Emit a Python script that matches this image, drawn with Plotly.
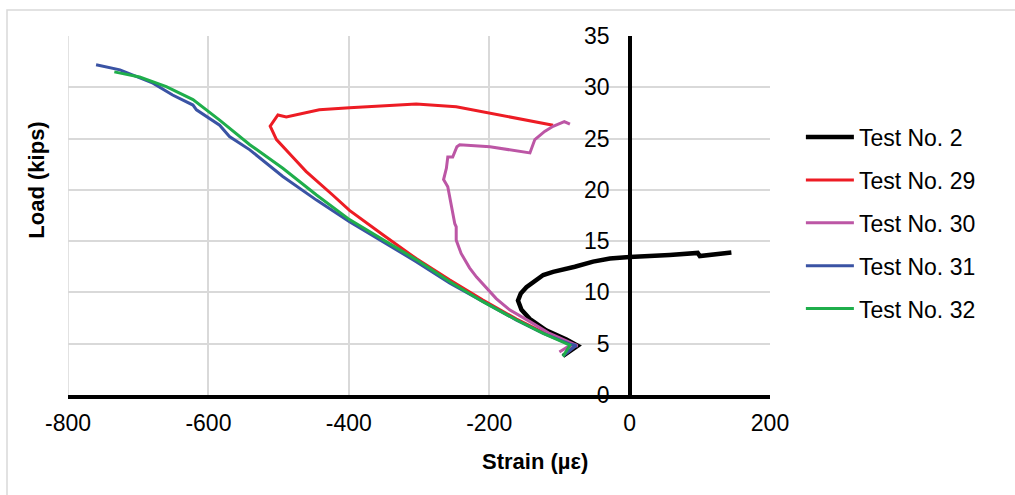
import plotly.graph_objects as go

# ---- data (strain in microstrain, load in kips) ----
t2_x = [-95, -74, -90, -119, -142, -154, -159, -155, -147, -133, -123, -109, -95, -78, -52, -28, 0, 28, 57, 97, 100, 145]
t2_y = [3.8, 4.8, 5.4, 6.3, 7.4, 8.3, 9.2, 9.9, 10.5, 11.2, 11.7, 12.0, 12.2, 12.5, 13.0, 13.3, 13.45, 13.6, 13.65, 13.85, 13.55, 13.9]

t29_x = [-92, -76, -85, -123, -161, -209, -256, -304, -351, -399, -423, -461, -480, -503, -512, -501, -489, -470, -442, -399, -304, -247, -199, -147, -109]
t29_y = [4.0, 4.87, 5.0, 6.1, 7.4, 9.26, 11.2, 13.3, 15.6, 18.0, 19.5, 21.8, 23.2, 24.9, 26.2, 27.3, 27.1, 27.4, 27.8, 28.0, 28.37, 28.1, 27.46, 26.75, 26.3]

t30_x = [-100, -88, -74, -114, -142, -171, -190, -202, -218, -228, -240, -247, -247, -249, -254, -259, -265, -261, -259, -252, -246, -242, -199, -147, -142, -135, -121, -109, -93, -85]
t30_y = [4.2, 4.7, 4.8, 6.0, 7.15, 8.3, 9.4, 10.3, 11.5, 12.4, 13.8, 15.1, 16.4, 16.7, 18.4, 20.3, 21.0, 22.1, 23.2, 23.2, 24.2, 24.4, 24.2, 23.7, 23.6, 24.9, 25.7, 26.2, 26.65, 26.4]

t31_x = [-95, -76, -85, -123, -161, -199, -256, -304, -351, -399, -446, -494, -541, -570, -584, -617, -622, -651, -679, -726, -760]
t31_y = [3.8, 4.85, 4.95, 6.0, 7.3, 8.77, 10.9, 13.0, 14.95, 16.9, 19.0, 21.3, 23.9, 25.2, 26.3, 27.8, 28.27, 29.25, 30.4, 31.7, 32.2]

t32_x = [-95, -85, -123, -161, -209, -256, -304, -351, -399, -446, -494, -541, -584, -622, -660, -698, -734]
t32_y = [3.75, 4.85, 6.0, 7.31, 9.1, 11.05, 13.2, 15.1, 17.1, 19.5, 22.1, 24.4, 26.8, 28.8, 30.06, 31.0, 31.5]

series_names = ["Test No. 2", "Test No. 29", "Test No. 30", "Test No. 31", "Test No. 32"]
series_x = [t2_x, t29_x, t30_x, t31_x, t32_x]
series_y = [t2_y, t29_y, t30_y, t31_y, t32_y]
series_colors = ["#000000", "#ed1c24", "#bc56a5", "#3a53a4", "#1fae4b"]
series_widths = [4.5, 3, 3, 3, 3]

x_ticks = [-800, -600, -400, -200, 0, 200]
y_ticks = [0, 5, 10, 15, 20, 25, 30, 35]

FONT = "Liberation Sans, Arial, sans-serif"

fig = go.Figure()
for name, xs, ys, c, w in zip(series_names, series_x, series_y, series_colors, series_widths):
    fig.add_trace(go.Scatter(x=xs, y=ys, mode="lines", name=name, legendgroup=name,
                             line=dict(color=c, width=w)))

fig.update_layout(
    width=1015, height=495,
    margin=dict(l=68, r=245, t=36, b=100),
    paper_bgcolor="white", plot_bgcolor="white",
    font=dict(family=FONT, size=23, color="#000000"),
    showlegend=True,
    legend=dict(x=1.044, y=0.479, xanchor="left", yanchor="middle",
                font=dict(family=FONT, size=23, color="#000000"),
                traceorder="grouped", tracegroupgap=10, itemwidth=48,
                bgcolor="rgba(0,0,0,0)"),
    xaxis=dict(range=[-800, 200], tickvals=x_ticks, ticktext=[str(v) for v in x_ticks],
               showgrid=True, gridcolor="#d9d9d9", gridwidth=1.5,
               zeroline=True, zerolinecolor="#000000", zerolinewidth=3.5,
               showline=True, linecolor="#000000", linewidth=3.5,
               ticks="", ticklabelstandoff=5,
               tickfont=dict(family=FONT, size=23, color="#000000")),
    yaxis=dict(range=[0, 35], tickvals=y_ticks, ticktext=[str(v) for v in y_ticks],
               anchor="free", position=0.8,
               showgrid=True, gridcolor="#d9d9d9", gridwidth=1.5,
               zeroline=False, showline=False, ticks="", ticklabelstandoff=20,
               tickfont=dict(family=FONT, size=23, color="#000000")),
    annotations=[
        dict(text="<b>Strain (µε)</b>", xref="paper", yref="paper", x=0.6652, y=-0.1866,
             xanchor="center", yanchor="middle", showarrow=False,
             font=dict(family=FONT, size=22, color="#000000")),
        dict(text="<b>Load (kips)</b>", xref="paper", yref="paper", x=-0.0446, y=0.599,
             xanchor="center", yanchor="middle", showarrow=False, textangle=-90,
             font=dict(family=FONT, size=22, color="#000000")),
    ],
    shapes=[
        dict(type="rect", xref="paper", yref="paper", x0=-0.0869, y0=1.0724, x1=1.36, y1=-0.3,
             line=dict(color="#d9d9d9", width=1.5), fillcolor="rgba(0,0,0,0)", layer="below"),
        dict(type="line", xref="x", yref="y", x0=x_ticks[0], x1=x_ticks[0], y0=y_ticks[0], y1=y_ticks[-1],
             line=dict(color="#d9d9d9", width=1.5), layer="below"),
    ],
)

fig.write_html("out.html")
